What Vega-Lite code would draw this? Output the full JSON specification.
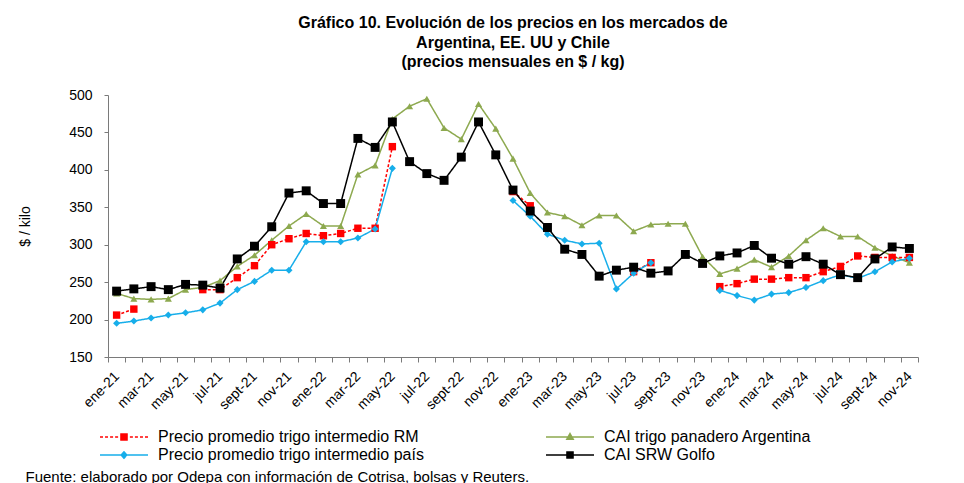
{
  "$schema": "https://vega.github.io/schema/vega-lite/v6.json",
  "width": 810,
  "height": 262,
  "autosize": {"type": "none"},
  "padding": {"left": 108, "top": 95, "right": 46, "bottom": 126},
  "background": "white",
  "config": {"font": "Liberation Sans", "view": {"stroke": null}},
  "title": {
    "text": ["Gráfico 10. Evolución de los precios en los mercados de", "Argentina, EE. UU y Chile", "(precios mensuales en $ / kg)"],
    "fontSize": 16, "fontWeight": "bold", "color": "#000", "anchor": "middle", "offset": 18, "lineHeight": 19.5, "font": "Liberation Sans"
  },
  "data": {"values": [
    {"m": "ene-21", "rm": 206, "pais": 195, "arg": 235, "srw": 238},
    {"m": "feb-21", "rm": 214, "pais": 198, "arg": 228, "srw": 241},
    {"m": "mar-21", "rm": null, "pais": 202, "arg": 227, "srw": 244},
    {"m": "abr-21", "rm": null, "pais": 206, "arg": 228, "srw": 240},
    {"m": "may-21", "rm": null, "pais": 209, "arg": 240, "srw": 247},
    {"m": "jun-21", "rm": 240, "pais": 213, "arg": 243, "srw": 246},
    {"m": "jul-21", "rm": 240, "pais": 222, "arg": 252, "srw": 242},
    {"m": "ago-21", "rm": 256, "pais": 240, "arg": 271, "srw": 281},
    {"m": "sept-21", "rm": 272, "pais": 251, "arg": 286, "srw": 298},
    {"m": "oct-21", "rm": 300, "pais": 266, "arg": 306, "srw": 324},
    {"m": "nov-21", "rm": 308, "pais": 266, "arg": 325, "srw": 369},
    {"m": "dic-21", "rm": 315, "pais": 304, "arg": 341, "srw": 372},
    {"m": "ene-22", "rm": 312, "pais": 304, "arg": 325, "srw": 355},
    {"m": "feb-22", "rm": 315, "pais": 304, "arg": 325, "srw": 355},
    {"m": "mar-22", "rm": 322, "pais": 309, "arg": 394, "srw": 442},
    {"m": "abr-22", "rm": 322, "pais": 321, "arg": 406, "srw": 430},
    {"m": "may-22", "rm": 431, "pais": 402, "arg": 468, "srw": 464},
    {"m": "jun-22", "rm": null, "pais": null, "arg": 485, "srw": 411},
    {"m": "jul-22", "rm": null, "pais": null, "arg": 495, "srw": 395},
    {"m": "ago-22", "rm": null, "pais": null, "arg": 456, "srw": 386},
    {"m": "sept-22", "rm": null, "pais": null, "arg": 441, "srw": 417},
    {"m": "oct-22", "rm": null, "pais": null, "arg": 488, "srw": 464},
    {"m": "nov-22", "rm": null, "pais": null, "arg": 455, "srw": 420},
    {"m": "dic-22", "rm": 371, "pais": 359, "arg": 415, "srw": 373},
    {"m": "ene-23", "rm": 352, "pais": 338, "arg": 369, "srw": 345},
    {"m": "feb-23", "rm": null, "pais": 314, "arg": 343, "srw": 323},
    {"m": "mar-23", "rm": null, "pais": 306, "arg": 338, "srw": 294},
    {"m": "abr-23", "rm": null, "pais": 301, "arg": 326, "srw": 287},
    {"m": "may-23", "rm": null, "pais": 302, "arg": 339, "srw": 258},
    {"m": "jun-23", "rm": null, "pais": 241, "arg": 339, "srw": 266},
    {"m": "jul-23", "rm": 264, "pais": 262, "arg": 318, "srw": 270},
    {"m": "ago-23", "rm": 276, "pais": 276, "arg": 327, "srw": 262},
    {"m": "sept-23", "rm": null, "pais": null, "arg": 328, "srw": 265},
    {"m": "oct-23", "rm": null, "pais": null, "arg": 328, "srw": 287},
    {"m": "nov-23", "rm": null, "pais": null, "arg": 284, "srw": 275},
    {"m": "dic-23", "rm": 244, "pais": 239, "arg": 261, "srw": 285},
    {"m": "ene-24", "rm": 248, "pais": 232, "arg": 268, "srw": 289},
    {"m": "feb-24", "rm": 254, "pais": 226, "arg": 280, "srw": 299},
    {"m": "mar-24", "rm": 254, "pais": 234, "arg": 270, "srw": 282},
    {"m": "abr-24", "rm": 256, "pais": 236, "arg": 285, "srw": 274},
    {"m": "may-24", "rm": 256, "pais": 243, "arg": 306, "srw": 284},
    {"m": "jun-24", "rm": 264, "pais": 252, "arg": 322, "srw": 274},
    {"m": "jul-24", "rm": 271, "pais": 260, "arg": 311, "srw": 260},
    {"m": "ago-24", "rm": 285, "pais": 255, "arg": 311, "srw": 256},
    {"m": "sept-24", "rm": 283, "pais": 264, "arg": 296, "srw": 281},
    {"m": "oct-24", "rm": 283, "pais": 277, "arg": 285, "srw": 297},
    {"m": "nov-24", "rm": 283, "pais": 282, "arg": 276, "srw": 295}
  ]},
  "transform": [{"fold": ["arg", "rm", "pais", "srw"], "as": ["s", "v"]}],
  "encoding": {
    "x": {
      "field": "m", "type": "ordinal", "sort": null, "bandPosition": 0.5,
      "scale": {"type": "band", "paddingInner": 0, "paddingOuter": 0},
      "axis": {
        "title": "Fuente: elaborado por Odepa con información de Cotrisa, bolsas y Reuters.",
        "titleAnchor": "start", "titleX": -83, "titleY": 112, "titleFontSize": 15, "titleFontWeight": "normal",
        "titleColor": "#000", "titleAlign": "left", "titleBaseline": "top", "titleFont": "Liberation Sans",
        "labelAngle": -45, "labelFontSize": 14, "labelColor": "#000", "labelFont": "Liberation Sans",
        "labelExpr": "test(/^(ene|mar|may|jul|sept|nov)-/, datum.value) ? datum.value : ''",
        "tickBand": "extent", "tickSize": 5, "tickColor": "#7a7a7a", "domainColor": "#7a7a7a",
        "labelPadding": 12, "labelAlign": "right", "labelBaseline": "middle", "labelOverlap": false, "grid": false
      }
    },
    "y": {
      "field": "v", "type": "quantitative",
      "scale": {"domain": [150, 500], "zero": false, "nice": false},
      "axis": {
        "title": "$ / kilo", "titleFontSize": 14, "titleFontWeight": "normal", "titleColor": "#000", "titleFont": "Liberation Sans",
        "titlePadding": 36, "values": [150, 200, 250, 300, 350, 400, 450, 500],
        "labelFontSize": 14, "labelColor": "#000", "labelFont": "Liberation Sans", "labelPadding": 12,
        "tickSize": 4, "tickColor": "#7a7a7a", "domainColor": "#7a7a7a", "grid": false
      }
    }
  },
  "layer": [
    {
      "mark": {"type": "line", "strokeWidth": 1.5, "invalid": "break-paths-show-domains"},
      "encoding": {
        "color": {
          "field": "s", "type": "nominal",
          "scale": {"domain": ["rm", "arg", "pais", "srw"], "range": ["#FF0000", "#8DA94F", "#17AEEA", "#000000"]},
          "legend": {
            "orient": "none", "legendX": -9, "legendY": 333, "columns": 2, "direction": "horizontal", "title": null,
            "padding": 0, "labelFontSize": 16, "labelFont": "Liberation Sans", "labelColor": "#000", "labelLimit": 500,
            "symbolSize": 100, "labelOffset": 9, "columnPadding": 121, "rowPadding": 0, "clipHeight": 18,
            "labelExpr": "datum.label === 'rm' ? 'Precio promedio trigo intermedio RM' : datum.label === 'arg' ? 'CAI trigo panadero Argentina' : datum.label === 'pais' ? 'Precio promedio trigo intermedio país' : 'CAI SRW Golfo'",
            "encode": {"symbols": {"update": {
              "shape": {"signal": "datum.value === 'rm' ? 'M-1,0H-0.875M-0.79,0H-0.665M-0.58,0H-0.455M-0.37,0H-0.245M-0.13,-0.13H0.13V0.13H-0.13ZM0.245,0H0.37M0.455,0H0.58M0.665,0H0.79M0.875,0H1' : datum.value === 'arg' ? 'M-1,0H1M0,-0.15L0.14,0.1L-0.14,0.1Z' : datum.value === 'pais' ? 'M-1,0H1M0,-0.14L0.12,0L0,0.14L-0.12,0Z' : 'M-1,0H1M-0.13,-0.13H0.13V0.13H-0.13Z'"},
              "size": {"value": 2304},
              "fill": {"scale": "color", "field": "value"},
              "stroke": {"scale": "color", "field": "value"},
              "strokeWidth": {"value": 1.3},
              "strokeDash": {"value": [1, 0]},
              "opacity": {"value": 1},
              "fillOpacity": {"value": 1}
            }}}
          }
        },
        "strokeDash": {"condition": {"test": "datum.s === 'rm'", "value": [3, 2]}, "value": [1, 0]}
      }
    },
    {
      "mark": {"type": "point", "filled": true, "opacity": 1},
      "encoding": {
        "color": {"field": "s", "type": "nominal", "legend": null},
        "shape": {"condition": [{"test": "datum.s === 'arg'", "value": "triangle-up"}, {"test": "datum.s === 'pais'", "value": "diamond"}], "value": "square"},
        "size": {"condition": [{"test": "datum.s === 'srw'", "value": 80}, {"test": "datum.s === 'rm'", "value": 55}], "value": 50}
      }
    }
  ]
}
